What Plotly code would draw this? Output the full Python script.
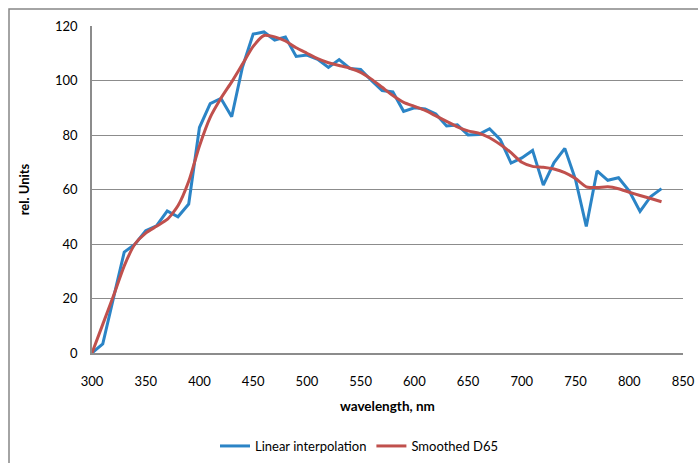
import plotly.graph_objects as go

# Wavelength grid (nm), 10 nm steps
wavelength = [300, 310, 320, 330, 340, 350, 360, 370, 380, 390,
              400, 410, 420, 430, 440, 450, 460, 470, 480, 490,
              500, 510, 520, 530, 540, 550, 560, 570, 580, 590,
              600, 610, 620, 630, 640, 650, 660, 670, 680, 690,
              700, 710, 720, 730, 740, 750, 760, 770, 780, 790,
              800, 810, 820, 830]

# D65 relative spectral power, linear interpolation
linear_interp = [0.03, 3.29, 20.24, 37.05, 39.95, 44.91, 46.64, 52.09, 49.98, 54.65,
                 82.75, 91.49, 93.43, 86.68, 104.87, 117.01, 117.81, 114.86, 115.92, 108.81,
                 109.35, 107.80, 104.79, 107.69, 104.41, 104.05, 100.00, 96.33, 95.79, 88.69,
                 90.01, 89.60, 87.70, 83.29, 83.70, 80.03, 80.21, 82.28, 78.28, 69.72,
                 71.61, 74.35, 61.60, 69.89, 75.09, 63.59, 46.42, 66.81, 63.38, 64.30,
                 59.45, 51.96, 57.44, 60.31]

# Smoothed D65 curve
smoothed_d65 = [0.0, 10.5, 21.0, 32.0, 40.0, 44.0, 46.5, 49.0, 54.0, 63.0,
                76.0, 86.5, 93.5, 99.5, 106.0, 112.5, 116.5, 116.0, 114.5, 112.0,
                110.0, 108.0, 106.5, 105.5, 104.5, 103.0, 100.5, 97.5, 94.5, 92.0,
                90.5, 89.0, 87.0, 85.0, 83.0, 81.5, 80.7, 79.0, 76.5, 73.5,
                70.0, 68.5, 68.2, 67.5, 66.2, 64.0, 61.0, 60.7, 61.0, 60.3,
                59.0, 57.8, 56.7, 55.5]

x_ticks = [300, 350, 400, 450, 500, 550, 600, 650, 700, 750, 800, 850]
y_ticks = [0, 20, 40, 60, 80, 100, 120]

FONT = "Lato, 'Open Sans', sans-serif"
GRID = "#8c8c8c"

fig = go.Figure()
fig.add_trace(go.Scatter(
    x=wavelength, y=linear_interp, mode="lines", name="Linear interpolation",
    line=dict(color="#2b84c6", width=3)))
fig.add_trace(go.Scatter(
    x=wavelength, y=smoothed_d65, mode="lines", name="Smoothed D65",
    line=dict(color="#c0504d", width=3, shape="spline", smoothing=0.6)))

W, H = 698, 463
L, R, T, B = 92, 15, 26, 110
pw, ph = W - L - R, H - T - B


def px_to_paper(px, py):
    return (px - L) / pw, (H - B - py) / ph


# chart-area frame
x0, y0 = px_to_paper(9, 9)
x1, y1 = px_to_paper(720, 490)
fig.add_shape(type="rect", xref="paper", yref="paper", x0=x0, y0=y1, x1=x1, y1=y0,
              line=dict(color="#878787", width=1.5), fillcolor="rgba(0,0,0,0)", layer="below")

# x-axis title placed as an annotation
tx, ty = px_to_paper(387, 406)
fig.add_annotation(text="<b>wavelength, nm</b>", xref="paper", yref="paper",
                   x=tx, y=ty, xanchor="center", yanchor="middle", showarrow=False,
                   font=dict(size=13.5))

lx, ly = px_to_paper(359, 446)
fig.update_layout(
    width=W, height=H,
    margin=dict(l=L, r=R, t=T, b=B, autoexpand=False),
    paper_bgcolor="white", plot_bgcolor="white",
    font=dict(family=FONT, size=13, color="#000000"),
    showlegend=True,
    legend=dict(orientation="h", x=lx, xanchor="center", y=ly, yanchor="middle",
                font=dict(size=13), itemwidth=30, tracegroupgap=0),
)
fig.update_xaxes(
    range=[300, 850], tickvals=x_ticks, ticks="", showgrid=False,
    showline=True, linecolor=GRID, linewidth=1.5, zeroline=False,
    ticklabelstandoff=16, automargin=False,
    tickfont=dict(size=13),
)
fig.update_yaxes(
    range=[0, 120], tickvals=y_ticks, ticks="", showgrid=True, gridcolor=GRID, gridwidth=1.2,
    showline=True, linecolor=GRID, linewidth=1.5, zeroline=False,
    ticklabelstandoff=10, automargin=False,
    title=dict(text="<b>rel. Units</b>", font=dict(size=13), standoff=22),
    tickfont=dict(size=13),
)

fig.write_html("out.html")
